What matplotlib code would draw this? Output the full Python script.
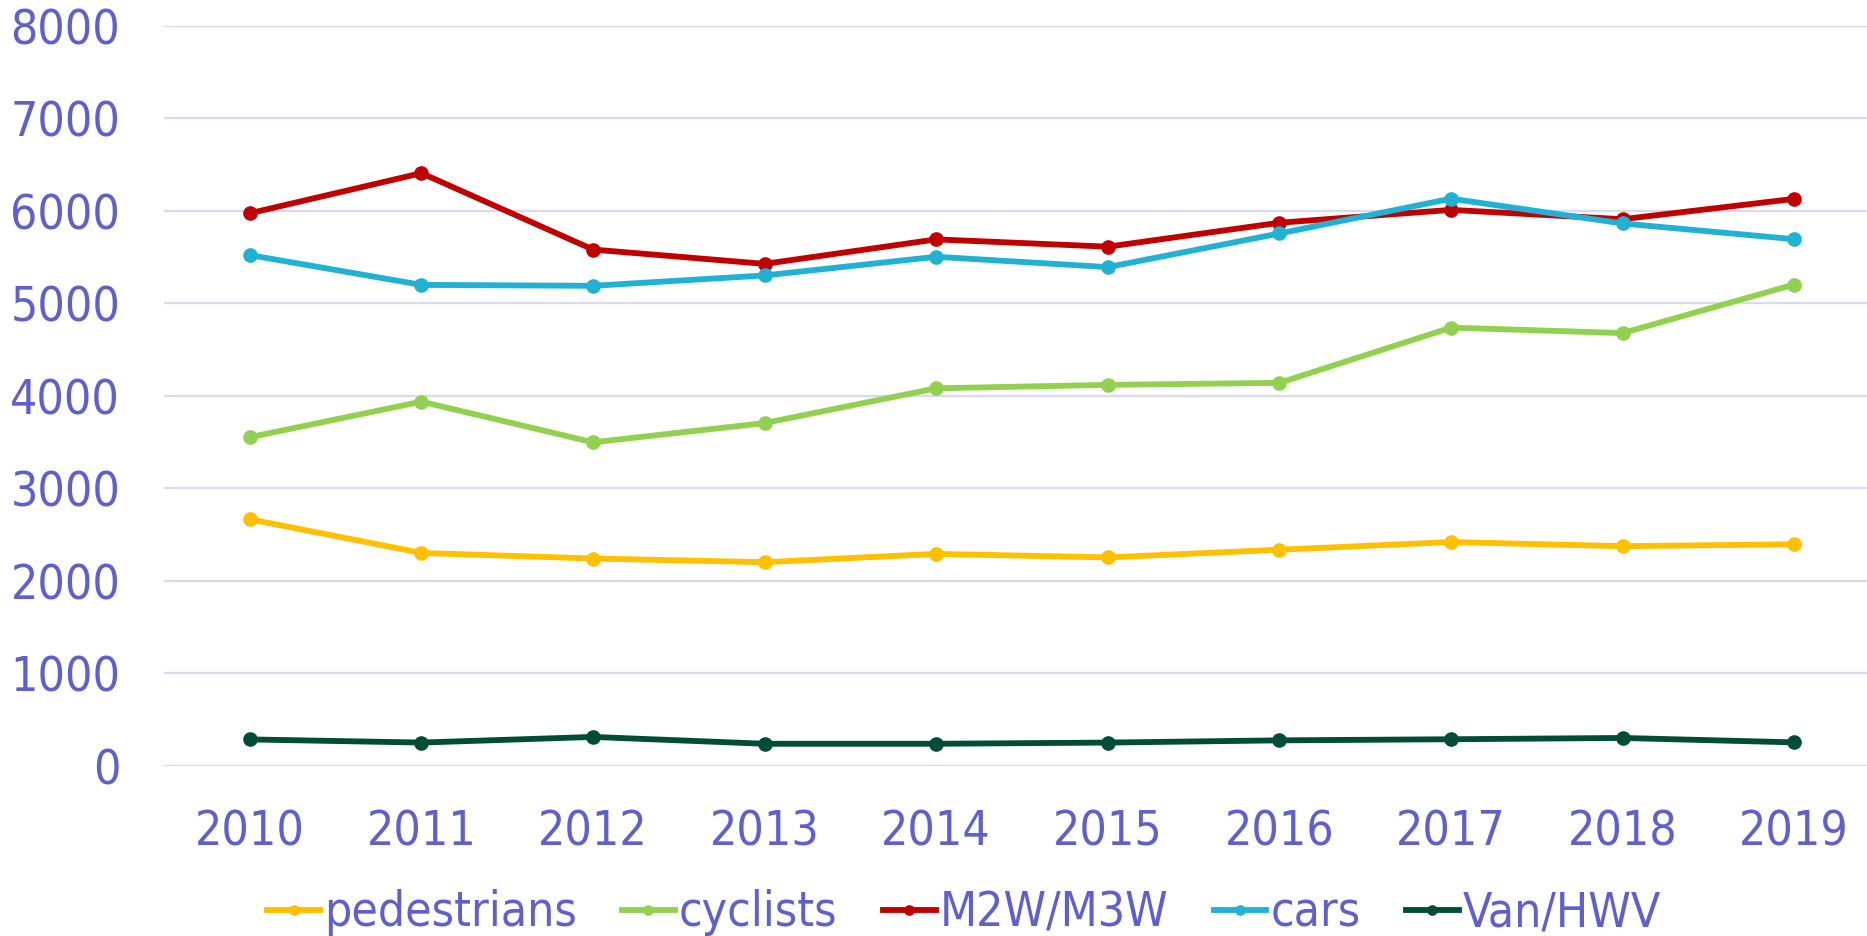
import matplotlib
matplotlib.use("Agg")
import matplotlib.pyplot as plt
from matplotlib.ticker import FixedLocator

years = ["2010", "2011", "2012", "2013", "2014", "2015", "2016", "2017", "2018", "2019"]
pedestrians = [2664, 2300, 2240, 2200, 2290, 2252, 2335, 2418, 2373, 2394]
cyclists = [3551, 3936, 3496, 3704, 4080, 4117, 4139, 4736, 4677, 5202]
m2w_m3w = [5972, 6406, 5580, 5425, 5690, 5611, 5870, 6009, 5908, 6128]
cars = [5520, 5198, 5188, 5300, 5502, 5390, 5754, 6130, 5862, 5692]
van_hwv = [284, 250, 311, 237, 237, 250, 274, 286, 300, 252]

series_names = ["pedestrians", "cyclists", "M2W/M3W", "cars", "Van/HWV"]
series_values = [pedestrians, cyclists, m2w_m3w, cars, van_hwv]
series_colors = ["#FFC000", "#92D050", "#C00000", "#21B1D2", "#004D36"]
y_ticks = [0, 1000, 2000, 3000, 4000, 5000, 6000, 7000, 8000]

text_color = "#6060CC"
grid_color = "#D9D9F0"
fs = 34.5

plt.rcParams['font.family'] = ['DejaVu Sans']
fig = plt.figure(figsize=(18.67, 9.36), dpi=100)
W, H = 1867, 936
left, right = 164, 1880
top, bottom = 25.7, 765.7
ax = fig.add_axes([left / W, 1 - bottom / H, (right - left) / W, (bottom - top) / H])

x = list(range(len(years)))
for name, vals, col in zip(series_names, series_values, series_colors):
    ax.plot(x, vals, color=col, lw=4.2, marker='o', markersize=9.5, label=name,
            solid_joinstyle='round', zorder=3)

ax.set_xlim(-0.5, len(years) - 0.5)
ax.set_ylim(0, 8000)
ax.yaxis.set_major_locator(FixedLocator(y_ticks))
ax.set_yticklabels([str(t) for t in y_ticks])
ax.set_xticks(x)
ax.set_xticklabels(years)
ax.grid(axis='y', color=grid_color, lw=1.6, zorder=0)
ax.set_axisbelow(True)
for s in ax.spines.values():
    s.set_visible(False)
ax.tick_params(axis='both', length=0, labelsize=fs, labelcolor=text_color)
ax.tick_params(axis='y', pad=31.5)
ax.tick_params(axis='x', pad=30.5)
for lab in ax.get_xticklabels() + ax.get_yticklabels():
    lab.set_fontstretch('condensed')

leg = fig.legend(loc='center', bbox_to_anchor=(964 / W, 1 - 913 / H), ncol=5, frameon=False,
                 fontsize=fs, handlelength=1.1, handletextpad=0.08, columnspacing=0.95,
                 markerscale=0.7)
for t in leg.get_texts():
    t.set_color(text_color)
    t.set_fontstretch('condensed')

fig.savefig("out.png", dpi=100)
